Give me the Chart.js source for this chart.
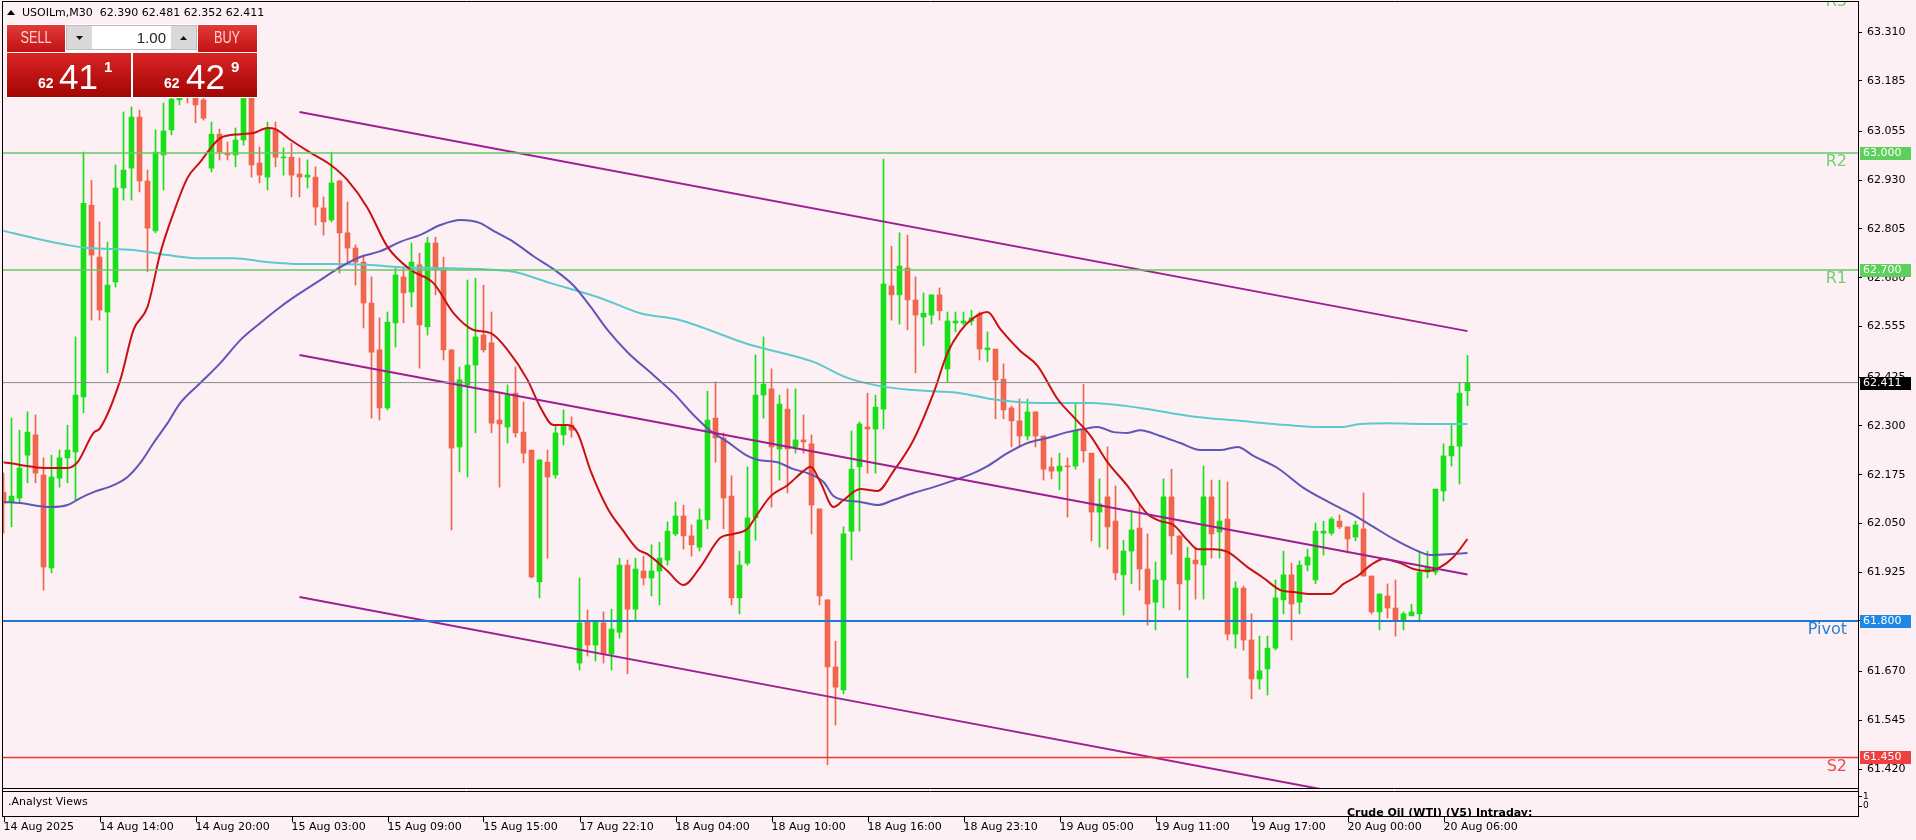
<!DOCTYPE html>
<html><head><meta charset="utf-8">
<script src="https://cdn.jsdelivr.net/npm/chart.js@4.4.1/dist/chart.umd.min.js"></script>
<style>html,body{margin:0;padding:0;background:#fdf0f4;overflow:hidden}canvas{display:block}</style>
</head><body>
<canvas id="c" width="1916" height="840"></canvas>
<script>
// ---- candle data (USOILm, M30) ----
const open = [62.130,62.105,62.115,62.225,62.277,62.174,61.936,62.166,62.218,62.233,62.374,62.866,62.733,62.592,62.669,62.910,62.961,63.092,62.928,62.800,
62.995,63.059,63.136,63.174,63.187,63.136,62.961,63.048,62.999,62.995,63.033,63.174,62.974,62.938,63.059,62.987,62.989,62.946,62.938,62.938,
62.859,62.828,62.928,62.795,62.756,62.720,62.615,62.495,62.346,62.564,62.682,62.643,62.713,62.554,62.769,62.705,62.495,62.246,62.405,62.456,
62.533,62.513,62.315,62.297,62.384,62.284,62.238,61.900,62.207,62.174,62.277,62.302,61.692,61.800,61.738,61.795,61.715,61.771,61.943,61.830,
61.928,61.910,61.928,61.956,62.023,62.069,62.018,61.989,62.059,62.320,62.269,62.120,61.859,61.948,62.064,62.379,62.395,62.241,62.343,62.246,
62.264,62.254,62.087,61.854,61.682,61.623,62.030,62.195,62.297,62.292,62.343,62.659,62.636,62.705,62.623,62.579,62.584,62.636,62.446,62.564,
62.564,62.569,62.587,62.495,62.497,62.420,62.346,62.313,62.274,62.336,62.274,62.195,62.184,62.197,62.197,62.289,62.230,62.079,62.118,62.056,
61.918,61.979,62.038,61.933,61.848,61.905,62.118,62.018,61.905,61.956,61.943,62.118,62.028,62.061,61.766,61.884,61.751,61.651,61.677,61.730,
61.854,61.918,61.848,61.943,61.905,62.025,62.025,62.056,62.041,62.015,62.036,61.915,61.823,61.864,61.833,61.802,61.813,61.818,61.925,61.925,
62.133,62.223,62.248,62.390];
const high = [62.179,62.320,62.289,62.336,62.328,62.218,62.225,62.238,62.302,62.528,63.002,62.930,62.823,62.771,62.969,63.105,63.118,63.110,62.956,63.059,
63.128,63.166,63.200,63.213,63.225,63.161,63.079,63.061,63.028,63.064,63.200,63.192,63.015,63.079,63.079,63.013,63.025,62.987,62.982,62.964,
62.887,63.002,62.930,62.874,62.764,62.738,62.682,62.577,62.592,62.705,62.707,62.769,62.743,62.784,62.784,62.733,62.495,62.451,62.674,62.679,
62.661,62.592,62.384,62.405,62.451,62.361,62.238,62.213,62.238,62.302,62.341,62.323,61.910,61.828,61.800,61.823,61.830,61.961,61.956,61.961,
61.966,61.995,62.002,62.054,62.105,62.097,62.046,62.087,62.389,62.413,62.282,62.172,61.979,62.195,62.482,62.528,62.446,62.379,62.395,62.395,
62.328,62.277,62.087,61.854,61.748,62.041,62.287,62.310,62.384,62.379,62.984,62.761,62.795,62.789,62.682,62.641,62.636,62.654,62.592,62.592,
62.592,62.597,62.592,62.541,62.497,62.459,62.351,62.369,62.369,62.336,62.274,62.218,62.230,62.218,62.359,62.407,62.230,62.164,62.246,62.146,
62.007,62.084,62.100,62.023,61.951,62.164,62.189,62.018,61.989,61.989,62.197,62.161,62.161,62.156,61.900,61.889,61.818,61.761,61.761,61.905,
61.979,61.948,61.954,61.984,62.051,62.056,62.066,62.072,62.041,62.056,62.128,61.915,61.869,61.895,61.905,61.823,61.843,61.979,61.979,62.138,
62.254,62.305,62.410,62.481];
const low = [62.025,62.041,62.102,62.154,62.154,61.879,61.923,62.143,62.154,62.110,62.333,62.571,62.571,62.436,62.656,62.879,62.879,62.900,62.695,62.795,
62.905,63.046,63.123,63.128,63.077,63.084,62.951,62.982,62.982,62.964,63.020,62.938,62.923,62.905,62.964,62.943,62.887,62.887,62.910,62.815,
62.789,62.823,62.692,62.718,62.661,62.551,62.320,62.315,62.341,62.502,62.564,62.605,62.448,62.533,62.636,62.469,62.033,62.182,62.169,62.282,
62.489,62.282,62.143,62.256,62.271,62.205,61.910,61.859,61.961,62.166,62.251,62.271,61.674,61.710,61.697,61.692,61.674,61.756,61.664,61.802,
61.892,61.864,61.841,61.943,62.018,61.984,61.966,61.979,62.036,62.207,62.036,61.841,61.818,61.943,62.007,62.320,62.092,62.161,62.128,62.230,
62.230,62.023,61.841,61.431,61.533,61.613,61.956,62.030,62.179,62.179,62.292,62.571,62.561,62.546,62.436,62.505,62.561,62.571,62.413,62.541,
62.559,62.559,62.469,62.464,62.318,62.318,62.246,62.246,62.264,62.246,62.161,62.164,62.136,62.066,62.189,62.207,62.005,61.989,61.984,61.905,
61.815,61.895,61.879,61.789,61.777,61.833,61.971,61.828,61.654,61.856,61.856,61.961,61.961,61.751,61.730,61.725,61.600,61.625,61.610,61.725,
61.818,61.751,61.818,61.928,61.895,61.969,62.020,62.036,61.974,62.005,61.915,61.818,61.777,61.807,61.761,61.777,61.813,61.797,61.910,61.918,
62.107,62.197,62.151,62.352];
const close = [62.102,62.120,62.192,62.284,62.179,61.938,62.169,62.218,62.238,62.379,62.871,62.738,62.597,62.661,62.910,62.956,63.092,62.928,62.807,63.002,
63.056,63.138,63.174,63.148,63.123,63.089,63.048,63.002,62.995,63.033,63.174,62.969,62.943,63.061,62.989,62.989,62.943,62.938,62.943,62.861,
62.823,62.923,62.795,62.756,62.720,62.615,62.489,62.346,62.566,62.687,62.641,62.720,62.559,62.769,62.700,62.495,62.243,62.418,62.456,62.528,
62.495,62.307,62.305,62.379,62.282,62.230,61.913,62.213,62.169,62.282,62.302,62.289,61.795,61.738,61.800,61.715,61.779,61.943,61.830,61.933,
61.910,61.928,61.961,62.030,62.069,62.018,61.995,62.059,62.315,62.269,62.115,61.859,61.943,62.064,62.379,62.407,62.246,62.356,62.241,62.264,
62.259,62.097,61.864,61.682,61.630,62.023,62.189,62.305,62.292,62.348,62.664,62.636,62.710,62.623,62.584,62.589,62.636,62.595,62.569,62.569,
62.569,62.577,62.497,62.500,62.418,62.341,62.313,62.274,62.336,62.274,62.189,62.184,62.197,62.195,62.289,62.236,62.079,62.100,62.041,61.923,
61.979,62.033,61.933,61.843,61.905,62.118,62.018,61.895,61.961,61.946,62.118,62.023,62.056,61.766,61.884,61.751,61.651,61.672,61.730,61.859,
61.918,61.843,61.943,61.964,62.030,62.030,62.061,62.041,62.010,62.046,61.915,61.823,61.869,61.833,61.802,61.818,61.823,61.925,61.938,62.138,
62.223,62.248,62.384,62.411];

// ---- moving averages (candle index, price) ----
const maRedIdx = [0,2.1,5,8,9.25,11.25,12.1,14.6,16.25,18,19.6,21.25,23,24.6,27.1,29.6,31.25,33,34,35.9,38.4,40.9,43,45.5,48,50.9,53.75,56.25,58.75,60.9,63,65.5,67.1,68.75,70.5,71.75,73.4,75.5,77.5,79.25,80.5,83,85,87.1,89.6,91.25,93,94.25,95.9,98,100,100.9,102.1,103.75,105,107.1,109.25,111.25,113.75,116.25,118,119.6,121.25,123,124.6,127.1,129.25,131.75,133.75,135.9,138,140.5,143,144.6,146.25,148,149.25,151.25,153,155.5,157.5,159.6,161.25,163.4,165.9,167.5,169.25,170.9,172.5,174.6,176.25,178,179.6,181.25,183];
const maRedVal = [62.207,62.200,62.192,62.192,62.207,62.282,62.295,62.418,62.546,62.605,62.743,62.846,62.936,62.977,63.038,63.048,63.051,63.064,63.061,63.033,63.000,62.969,62.930,62.859,62.759,62.700,62.666,62.589,62.546,62.538,62.495,62.418,62.348,62.302,62.302,62.282,62.184,62.089,62.030,61.984,61.971,61.928,61.892,61.938,62.013,62.023,62.036,62.074,62.120,62.148,62.184,62.195,62.156,62.092,62.110,62.138,62.133,62.184,62.264,62.384,62.487,62.543,62.577,62.592,62.548,62.492,62.454,62.369,62.323,62.274,62.207,62.146,62.074,62.056,62.046,62.007,61.984,61.984,61.977,61.938,61.910,61.879,61.874,61.869,61.869,61.895,61.915,61.943,61.959,61.948,61.933,61.928,61.938,61.964,62.010];
const maBlueIdx = [0,2.1,5.9,8,9.6,11.25,13.75,15.5,17.1,18.75,20.5,22.1,24.6,27.1,29.6,32.1,34.6,37.1,39.6,42.1,44.6,47.1,49.6,52.1,54.6,57.1,59.6,61.25,63.75,66.25,68.75,71.25,73.4,75.5,78,81.25,83.75,86.25,88.4,90.5,93,94.25,96.75,98.75,100.5,102.5,103.75,105,107.1,109.25,111.25,113.75,116.25,119.6,121.25,123,125.5,128,130.5,133,135,136.75,138.75,140.5,142.1,144.6,147.1,149.6,152.1,154.25,156.25,159.25,162.5,165.9,168.75,171.25,173.75,176.25,178.4,180.5,183];
const maBlueVal = [62.105,62.102,62.092,62.097,62.115,62.130,62.148,62.169,62.205,62.256,62.307,62.359,62.410,62.461,62.520,62.564,62.605,62.641,62.674,62.707,62.733,62.748,62.772,62.790,62.815,62.828,62.820,62.800,62.772,62.735,62.702,62.660,62.605,62.546,62.489,62.430,62.384,62.328,62.287,62.259,62.223,62.213,62.207,62.189,62.179,62.156,62.120,62.110,62.105,62.097,62.110,62.128,62.143,62.166,62.179,62.197,62.230,62.256,62.269,62.284,62.292,62.297,62.284,62.282,62.289,62.274,62.256,62.238,62.238,62.246,62.223,62.192,62.141,62.102,62.072,62.041,62.010,61.984,61.969,61.971,61.974];
const maCyanIdx = [0,3.75,8,10.5,16.25,20.5,24.6,28.75,33,37.1,41.25,45.5,49.6,53.75,59.6,63.75,68.4,74.6,79.6,84.6,93,101.25,105.5,109.6,113.75,119.6,123.4,129.6,135.9,142.1,148.4,154.6,160.5,164.6,167.1,169.6,173,177.1,183];
const maCyanVal = [62.800,62.782,62.764,62.756,62.751,62.738,62.730,62.730,62.720,62.715,62.715,62.713,62.707,62.705,62.702,62.695,62.666,62.628,62.589,62.571,62.510,62.464,62.423,62.402,62.392,62.384,62.369,62.359,62.359,62.346,62.325,62.313,62.302,62.297,62.297,62.305,62.307,62.305,62.305];

// ---- channel lines (start/end candle index and price) ----
const chanIdx = [37, 183];
const chanUpper = [63.105, 62.543];
const chanMiddle = [62.482, 61.919];
const chanLower = [61.861, 61.298];

// ---- pivot levels ----
const levelNames = ['R3','R2','R1','Pivot','S2'];
const levelValues = [63.410, 63.000, 62.700, 61.800, 61.450];

// ---- axis ticks ----
const priceTicks = [63.310,63.185,63.055,62.930,62.805,62.680,62.555,62.425,62.300,62.175,62.050,61.925,61.800,61.670,61.545,61.420];
const timeTickIdx = [0,12,24,36,48,60,72,84,96,108,120,132,144,156,168,180];
const timeLabels = ['14 Aug 2025','14 Aug 14:00','14 Aug 20:00','15 Aug 03:00','15 Aug 09:00','15 Aug 15:00','17 Aug 22:10','18 Aug 04:00','18 Aug 10:00','18 Aug 16:00','18 Aug 23:10','19 Aug 05:00','19 Aug 11:00','19 Aug 17:00','20 Aug 00:00','20 Aug 06:00'];

// ---- styles ----
const BG = '#fdf0f4';
const BULL = '#19df19', BEAR = '#f0654e';
const levelLineColors = ['#66c966','#66c966','#66c966','#1f78d1','#e53935'];
const levelTextColors = ['#72cf72','#72cf72','#72cf72','#2a7fd4','#e84a4a'];
const levelBoxColors = ['#5ccf5c','#5ccf5c','#5ccf5c','#1e88e5','#ee4040'];
const FONT = '"DejaVu Sans", Verdana, sans-serif';

Chart.defaults.font.family = FONT;
Chart.defaults.font.size = 11;
Chart.defaults.color = '#000';

const idx = open.map((_, i) => i);
const candleColor = idx.map(i => close[i] >= open[i] ? BULL : BEAR);
const X_MIN = -0.0625, X_MAX = X_MIN + 1855 / 8;

const lineDs = (xs, ys, color, width, order) => ({
  type: 'line', data: xs.map((x, k) => ({x, y: ys[k]})), borderColor: color, borderWidth: width,
  pointRadius: 0, tension: 0.35, cubicInterpolationMode: 'monotone', fill: false, order
});
const flatDs = (v, color, width, order) => ({
  type: 'line', data: [{x: X_MIN, y: v}, {x: X_MAX, y: v}], borderColor: color, borderWidth: width,
  pointRadius: 0, fill: false, order
});

const datasets = [
  {type: 'bar', data: idx.map(i => ({x: i, y: [low[i], high[i]]})), backgroundColor: candleColor,
   barThickness: 1, grouped: false, order: 40},
  {type: 'bar', data: idx.map(i => ({x: i, y: [open[i], close[i]]})), backgroundColor: candleColor,
   barThickness: 5, minBarLength: 1, grouped: false, order: 39},
  lineDs(maCyanIdx, maCyanVal, '#5cc9cd', 2, 12),
  lineDs(maBlueIdx, maBlueVal, '#5f56b8', 2, 11),
  lineDs(maRedIdx, maRedVal, '#c81212', 2, 10),
  lineDs(chanIdx, chanUpper, '#9e1f92', 2, 8),
  lineDs(chanIdx, chanMiddle, '#9e1f92', 2, 8),
  lineDs(chanIdx, chanLower, '#9e1f92', 2, 8),
  flatDs(close[close.length - 1], '#8a8a8a', 1, 6),
  ...levelValues.map((v, k) => flatDs(v, levelLineColors[k], k === 3 ? 2 : 1.5, 5))
];

function drawPanel(c) {
  c.save();
  const grad = (y0, y1, a, b) => { const g = c.createLinearGradient(0, y0, 0, y1); g.addColorStop(0, a); g.addColorStop(1, b); return g; };
  c.fillStyle = '#ffffff'; c.fillRect(6, 24, 252, 74);
  c.fillStyle = grad(25, 52, '#e23a3a', '#c21212');
  c.fillRect(7, 25, 58, 27); c.fillRect(198, 25, 59, 27);
  c.fillStyle = '#ffffff'; c.fillRect(66, 25, 131, 25);
  c.fillStyle = '#d9d9d9'; c.fillRect(67, 26, 25, 23); c.fillRect(171, 26, 25, 23);
  c.strokeStyle = '#bcbcbc'; c.lineWidth = 1; c.strokeRect(66.5, 25.5, 130, 24);
  c.fillStyle = '#111';
  c.beginPath(); c.moveTo(76, 36); c.lineTo(83, 36); c.lineTo(79.5, 40); c.closePath(); c.fill();
  c.beginPath(); c.moveTo(180, 40); c.lineTo(187, 40); c.lineTo(183.5, 36); c.closePath(); c.fill();
  c.textBaseline = 'middle';
  c.font = '15px "Liberation Sans", Arial, sans-serif';
  c.textAlign = 'right'; c.fillStyle = '#222'; c.fillText('1.00', 166, 38.5);
  c.textAlign = 'center'; c.fillStyle = '#ffd2d2';
  c.save(); c.translate(36, 39); c.scale(0.85, 1.05); c.fillText('SELL', 0, 0); c.restore();
  c.save(); c.translate(227, 39); c.scale(0.85, 1.05); c.fillText('BUY', 0, 0); c.restore();
  c.fillStyle = grad(53, 97, '#da2424', '#a20505');
  c.fillRect(7, 53, 124, 44); c.fillRect(133, 53, 124, 44);
  c.fillStyle = '#ffffff'; c.textAlign = 'left'; c.textBaseline = 'alphabetic';
  c.font = 'bold 14px "Liberation Sans", Arial, sans-serif';
  c.fillText('62', 38, 88); c.fillText('62', 164, 88);
  c.font = '35px "Liberation Sans", Arial, sans-serif';
  c.fillText('41', 59, 89); c.fillText('42', 186, 89);
  c.font = 'bold 15px "Liberation Sans", Arial, sans-serif';
  c.fillText('1', 104, 72); c.fillText('9', 231, 72);
  c.restore();
}

const mtPlugin = {
  id: 'mt',
  beforeDraw(chart) {
    const c = chart.ctx; c.save(); c.fillStyle = BG; c.fillRect(0, 0, chart.width, chart.height); c.restore();
  },
  afterDraw(chart) {
    const c = chart.ctx, ys = chart.scales.y, xs = chart.scales.x, a = chart.chartArea;
    const n = close.length - 1;
    c.save();
    // level names inside the plot
    c.save(); c.beginPath(); c.rect(a.left, a.top, a.right - a.left, a.bottom - a.top); c.clip();
    c.font = '16px ' + FONT; c.textAlign = 'right'; c.textBaseline = 'top';
    levelNames.forEach((nm, k) => { c.fillStyle = levelTextColors[k]; c.fillText(nm, 1847, ys.getPixelForValue(levelValues[k]) + 1); });
    c.restore();
    // frame and sub-window
    c.strokeStyle = '#000'; c.lineWidth = 1; c.beginPath();
    c.moveTo(2.5, 1); c.lineTo(2.5, 817);
    c.moveTo(2, 1.5); c.lineTo(1859, 1.5);
    c.moveTo(1858.5, 1); c.lineTo(1858.5, 817);
    c.moveTo(2, 788.5); c.lineTo(1859, 788.5);
    c.moveTo(2, 791.5); c.lineTo(1859, 791.5);
    c.moveTo(2, 816.5); c.lineTo(1859, 816.5);
    xs.ticks.forEach(t => { const px = Math.round(xs.getPixelForValue(t.value)) + 0.5; c.moveTo(px, 817); c.lineTo(px, 822); });
    c.moveTo(1859, 796.5); c.lineTo(1862, 796.5);
    c.moveTo(1859, 806.5); c.lineTo(1862, 806.5);
    c.stroke();
    c.fillStyle = '#000'; c.font = '11px ' + FONT; c.textAlign = 'left'; c.textBaseline = 'middle';
    c.fillText('.Analyst Views', 8, 802);
    c.font = '9px ' + FONT; c.fillText('1', 1863, 797); c.fillText('0', 1863, 806);
    c.save(); c.beginPath(); c.rect(3, 792, 1855, 24); c.clip();
    c.font = 'bold 11px ' + FONT; c.textBaseline = 'alphabetic'; c.fillText('Crude Oil (WTI) (V5) Intraday:', 1347, 816);
    c.restore();
    // price boxes on the axis
    c.font = '11px ' + FONT; c.textBaseline = 'middle'; c.textAlign = 'left';
    const boxes = levelValues.map((v, k) => [v, levelBoxColors[k]]).concat([[close[n], '#000']]);
    boxes.forEach(([v, col]) => {
      const y = Math.round(ys.getPixelForValue(v));
      if (y < a.top || y > a.bottom) return;
      c.fillStyle = col; c.fillRect(1860, y - 6, 51, 13);
      c.fillStyle = '#fff'; c.fillText(v.toFixed(3), 1863, y + 0.5);
    });
    // header
    c.fillStyle = '#000';
    c.beginPath(); c.moveTo(7, 15); c.lineTo(15, 15); c.lineTo(11, 10); c.closePath(); c.fill();
    c.font = '11px ' + FONT; c.textBaseline = 'middle';
    c.fillText('USOILm,M30  ' + [open[n], high[n], low[n], close[n]].map(v => v.toFixed(3)).join(' '), 22, 13);
    c.restore();
    drawPanel(c);
  }
};

new Chart(document.getElementById('c'), {
  type: 'bar',
  data: {datasets},
  options: {
    responsive: false, animation: false, devicePixelRatio: 1, events: [],
    layout: {autoPadding: false, padding: {left: 3, top: 1, right: 0, bottom: 0}},
    plugins: {legend: {display: false}, tooltip: {enabled: false}},
    scales: {
      x: {
        type: 'linear', min: X_MIN, max: X_MAX, offset: false, position: 'bottom',
        grid: {display: false, drawTicks: false}, border: {display: false},
        afterBuildTicks: s => { s.ticks = timeTickIdx.map(v => ({value: v})); },
        afterFit: s => { s.height = 52; s.paddingLeft = 0; s.paddingRight = 0; },
        ticks: {autoSkip: false, maxRotation: 0, minRotation: 0, align: 'start', padding: 33,
          color: '#000', font: {size: 11},
          callback: (v, i) => timeLabels[i]}
      },
      y: {
        type: 'linear', position: 'right', min: 61.3715, max: 63.3895,
        grid: {display: true, drawOnChartArea: false, drawTicks: true, tickLength: 4, color: '#000'},
        border: {display: true, color: '#000'},
        afterBuildTicks: s => { s.ticks = priceTicks.map(v => ({value: v})); },
        afterFit: s => { s.width = 58; s.paddingTop = 0; s.paddingBottom = 0; },
        ticks: {autoSkip: false, padding: 5, color: '#000', font: {size: 11},
          callback: v => Number(v).toFixed(3)}
      }
    }
  },
  plugins: [mtPlugin]
});
</script>
</body></html>
